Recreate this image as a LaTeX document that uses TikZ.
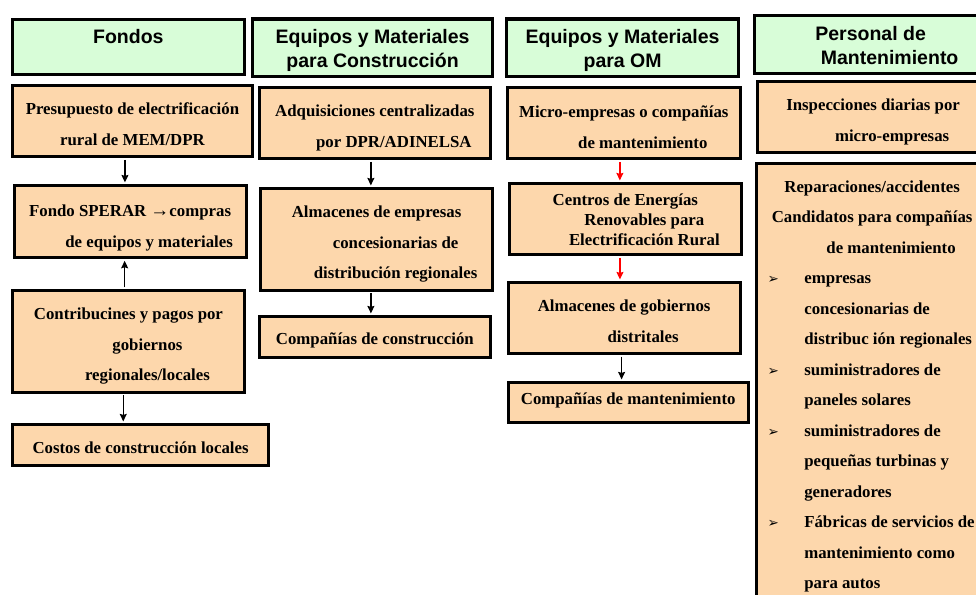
\documentclass[tikz,border=0pt]{standalone}
\usepackage{fontspec}
\setmainfont{Liberation Serif}
\setsansfont{Liberation Sans}
\newfontfamily\symfont{DejaVu Sans}
\usetikzlibrary{arrows.meta}
\definecolor{mintgreen}{HTML}{D8FDD8}
\definecolor{peach}{HTML}{FDD7AC}

\newcommand{\contind}{\hspace*{38pt}}
\newcommand{\itm}[1]{\makebox[209pt][l]{\makebox[36.7pt][l]{{\symfont\fontsize{13.5}{13.5}\selectfont ➢}}#1}}
\newcommand{\cnt}[1]{\makebox[209pt][l]{\hspace*{36.7pt}#1}}

\begin{document}
\begin{tikzpicture}[x=1pt, y=-1pt,
  hdr/.style={draw, line width=3.2pt, fill=mintgreen, inner sep=0pt, anchor=north west, align=center, font=\sffamily\bfseries\fontsize{19.5}{23.7}\selectfont},
  box/.style={draw, line width=3.2pt, fill=peach, inner sep=0pt, anchor=north west, align=center, font=\bfseries\fontsize{16.8}{30.5}\selectfont},
  arr/.style={line width=1.3pt, -{Stealth[length=7.5pt,width=7pt,inset=1pt]}, shorten >=1.6pt, shorten <=1.6pt}]
\useasboundingbox (0,0) rectangle (976,594);
\clip (0,0) rectangle (976,594);

% Column headers
\node[hdr, minimum width=231.5pt, text height=24pt, text depth=30.5pt] (fondos) at (11,18) {Fondos};
\node[hdr, minimum width=240pt, text height=48.2pt, text depth=9.3pt] (eqcons) at (251,17.5) {Equipos y Materiales\\para Construcción};
\node[hdr, minimum width=232pt, text height=48.5pt, text depth=9pt] (eqom) at (505,17.5) {Equipos y Materiales\\para OM};
\node[hdr, minimum width=232pt, text height=48.7pt, text depth=9pt] (personal) at (753,14) {Personal de\\\contind Mantenimiento};

% Fondos
\node[box, minimum width=239.7pt, text height=60pt, text depth=11.5pt] (pres) at (11,83.5) {Presupuesto de electrificación\\rural de MEM/DPR};
\node[box, minimum width=232pt, text height=61.5pt, text depth=10.5pt] (sperar) at (12.5,184) {Fondo SPERAR {\fontsize{19}{19}\selectfont→}compras\\\contind de equipos y materiales};
\node[box, minimum width=231.7pt, text height=90.3pt, text depth=11.2pt] (contrib) at (11,289) {Contribucines y pagos por\\\contind gobiernos\\\contind regionales/locales};
\node[box, minimum width=256pt, text height=28.7pt, text depth=12.1pt] (costos) at (11,423) {Costos de construcción locales};

% Equipos y materiales para construccion
\node[box, minimum width=231.5pt, text height=60pt, text depth=11.5pt] (adq) at (257.5,85.5) {Adquisiciones centralizadas\\\contind por DPR/ADINELSA};
\node[box, minimum width=232pt, text height=90pt, text depth=11.5pt] (almemp) at (259,187) {Almacenes de empresas\\\contind concesionarias de\\\contind distribución regionales};
\node[box, minimum width=231.5pt, text height=28.3pt, text depth=12.4pt] (compcons) at (257.5,315) {Compañías de construcción};

% Equipos y materiales para OM
\node[box, minimum width=232.5pt, text height=60.5pt, text depth=10.5pt] (micro) at (506,86) {Micro-empresas o compañías\\\contind de mantenimiento};
\node[box, minimum width=232.5pt, text height=62pt, text depth=9pt, font=\bfseries\fontsize{16.8}{20}\selectfont] (centros) at (507.5,182) {Centros de Energías\\\contind Renovables para\\\contind Electrificación Rural};
\node[box, minimum width=232pt, text height=59.5pt, text depth=11.3pt] (almgob) at (506.5,281) {Almacenes de gobiernos\\\contind distritales};
\node[box, minimum width=240.2pt, text height=22.3pt, text depth=17.7pt] (compmant) at (506.5,381) {Compañías de mantenimiento};

% Personal de mantenimiento
\node[box, minimum width=231pt, text height=60.3pt, text depth=10.7pt] (insp) at (756,79.5) {Inspecciones diarias por\\\contind micro-empresas};
\node[box, minimum width=231pt, text height=425.7pt, text depth=20pt] (repar) at (755,161.5) {Reparaciones/accidentes\\Candidatos para compañías\\\contind de mantenimiento\\
  \itm{empresas}\\\cnt{concesionarias de}\\\cnt{distribuc ión regionales}\\
  \itm{suministradores de}\\\cnt{paneles solares}\\
  \itm{suministradores de}\\\cnt{pequeñas turbinas y}\\\cnt{generadores}\\
  \itm{Fábricas de servicios de}\\\cnt{mantenimiento como}\\\cnt{para autos}};

% Arrows
\draw[arr] ([xshift=-7.5pt]pres.south) -- ([xshift=-7.5pt]pres.south |- sperar.north);
\draw[arr] ([xshift=-3.8pt]contrib.north) -- ([xshift=-3.8pt]contrib.north |- sperar.south);
\draw[arr] ([xshift=-5.2pt]contrib.south) -- ([xshift=-5.2pt]contrib.south |- costos.north);
\draw[arr] ([xshift=-4pt]adq.south) -- ([xshift=-4pt]adq.south |- almemp.north);
\draw[arr] ([xshift=-5.7pt]almemp.south) -- ([xshift=-5.7pt]almemp.south |- compcons.north);
\draw[arr, red] ([xshift=-4pt]micro.south) -- ([xshift=-4pt]micro.south |- centros.north);
\draw[arr, red] ([xshift=-5.4pt]centros.south) -- ([xshift=-5.4pt]centros.south |- almgob.north);
\draw[arr] ([xshift=-2.5pt]almgob.south) -- ([xshift=-2.5pt]almgob.south |- compmant.north);
\end{tikzpicture}
\end{document}
